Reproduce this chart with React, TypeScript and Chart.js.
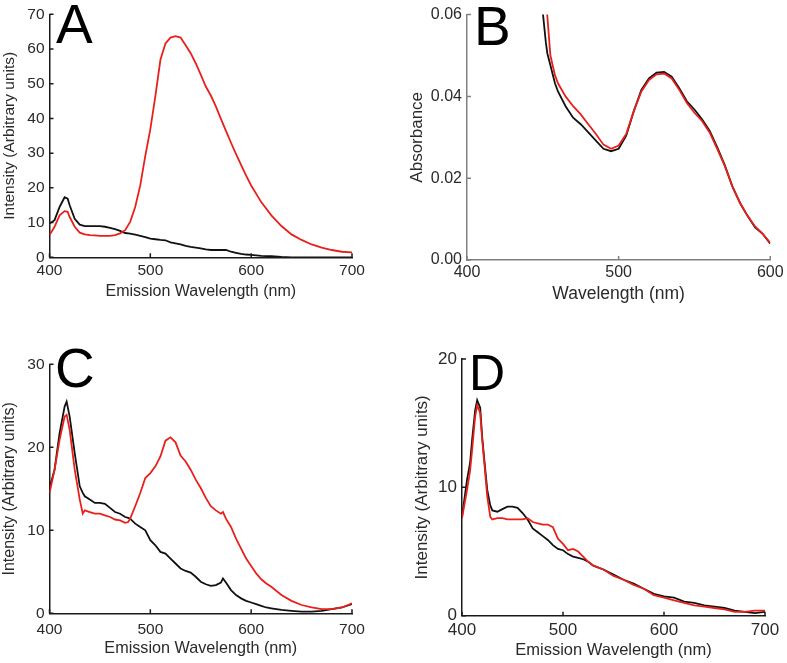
import React, { useEffect, useRef } from "react";
import { Chart, registerables } from "chart.js";

Chart.register(...registerables);

// ---------- DATA ----------
// Panel A: emission spectra
const wavelengthA = [400, 405, 410, 415, 418, 420, 425, 430, 435, 440, 445, 450, 455, 460, 465, 470, 475, 480, 485, 490, 495, 500, 505, 510, 515, 520, 525, 530, 535, 540, 545, 550, 555, 560, 565, 570, 575, 580, 585, 590, 595, 600, 610, 620, 630, 640, 650, 660, 670, 680, 690, 700];
const blackA = [9.7, 10.7, 14.5, 17.3, 16.9, 15.0, 11.1, 9.4, 9.0, 9.0, 9.0, 9.0, 8.8, 8.5, 8.1, 7.6, 7.0, 6.8, 6.5, 6.2, 5.8, 5.4, 5.2, 5.0, 4.9, 4.3, 4.0, 3.7, 3.3, 3.0, 2.8, 2.6, 2.3, 2.1, 2.1, 2.1, 2.1, 1.6, 1.3, 1.0, 0.8, 0.7, 0.4, 0.3, 0.1, 0.0, 0.0, 0.0, 0.0, 0.0, 0.0, 0.0];
const redA = [6.4, 8.8, 12.1, 13.3, 13.1, 11.6, 8.8, 7.1, 6.6, 6.4, 6.3, 6.2, 6.2, 6.2, 6.4, 6.9, 7.8, 10.2, 14.5, 20.7, 29.2, 36.9, 46.4, 56.9, 61.6, 63.3, 63.7, 63.3, 61.1, 58.8, 55.9, 52.6, 49.2, 46.6, 43.5, 39.9, 36.4, 33.0, 29.7, 26.6, 23.5, 20.7, 15.9, 12.1, 9.0, 6.6, 5.0, 3.7, 2.8, 2.1, 1.6, 1.4];

// Panel B: absorbance spectra
const wavelengthB = [450, 452, 453, 455, 458, 460, 465, 470, 475, 480, 485, 490, 495, 500, 505, 510, 515, 520, 525, 530, 535, 540, 545, 550, 555, 560, 565, 570, 575, 580, 585, 590, 595, 600];
const blackB = [0.0605, 0.0532, 0.0505, 0.0476, 0.0432, 0.0412, 0.0376, 0.0348, 0.0332, 0.0312, 0.0292, 0.0272, 0.0266, 0.0272, 0.0304, 0.0364, 0.0416, 0.0444, 0.0458, 0.046, 0.0448, 0.042, 0.0388, 0.0368, 0.0344, 0.0316, 0.0276, 0.0232, 0.018, 0.014, 0.0108, 0.008, 0.0064, 0.004];
const redB = [null, 0.064, 0.0595, 0.05, 0.0452, 0.0432, 0.04, 0.0376, 0.0356, 0.0332, 0.0308, 0.0282, 0.0272, 0.028, 0.0308, 0.0364, 0.0412, 0.044, 0.0454, 0.0456, 0.0444, 0.0416, 0.0384, 0.036, 0.034, 0.0312, 0.0272, 0.023, 0.018, 0.014, 0.0108, 0.0082, 0.0064, 0.0042];

// Panel C: emission spectra
const wavelengthC = [400, 405, 410, 415, 417, 420, 425, 430, 433, 435, 440, 445, 450, 455, 460, 465, 470, 475, 478, 480, 485, 490, 495, 500, 505, 510, 515, 520, 525, 530, 535, 540, 545, 550, 555, 560, 565, 570, 572, 575, 580, 585, 590, 595, 600, 605, 610, 615, 620, 630, 640, 650, 660, 670, 680, 690, 700];
const blackC = [15.1, 17.3, 21.7, 24.9, 25.5, 23.7, 19.3, 15.3, 14.5, 14.1, 13.7, 13.3, 13.3, 13.2, 12.7, 12.2, 12.0, 11.6, 11.5, 11.4, 10.8, 10.4, 10.0, 8.8, 8.2, 7.4, 7.2, 6.6, 6.0, 5.4, 5.1, 4.9, 4.4, 3.8, 3.5, 3.3, 3.4, 3.7, 4.2, 3.7, 2.8, 2.2, 1.8, 1.5, 1.3, 1.1, 0.9, 0.7, 0.6, 0.4, 0.3, 0.2, 0.2, 0.3, 0.5, 0.7, 1.1];
const redC = [14.5, 17.3, 20.9, 23.7, 23.9, 22.1, 17.3, 13.7, 12.0, 12.4, 12.2, 12.0, 12.0, 11.8, 11.6, 11.3, 11.2, 10.9, 11.0, 11.4, 12.9, 14.5, 16.3, 16.9, 17.7, 18.9, 20.8, 21.2, 20.6, 19.0, 18.3, 17.3, 16.1, 15.1, 13.9, 12.9, 12.4, 12.0, 12.2, 11.4, 10.4, 9.0, 7.8, 6.6, 5.7, 4.8, 4.1, 3.6, 3.2, 2.2, 1.5, 1.0, 0.7, 0.5, 0.5, 0.7, 1.2];

// Panel D: emission spectra
const wavelengthD = [400, 405, 408, 410, 413, 415, 418, 420, 423, 425, 428, 430, 435, 440, 445, 450, 455, 460, 465, 470, 475, 480, 485, 490, 495, 500, 505, 510, 515, 520, 525, 530, 540, 550, 560, 570, 580, 590, 600, 610, 620, 630, 640, 650, 660, 670, 680, 690, 700];
const blackD = [7.7, 10.6, 11.9, 13.7, 16.0, 16.8, 16.2, 13.9, 11.4, 9.8, 8.6, 8.2, 8.1, 8.3, 8.5, 8.5, 8.4, 8.0, 7.5, 6.8, 6.5, 6.2, 5.9, 5.5, 5.2, 5.1, 4.8, 4.6, 4.5, 4.4, 4.2, 3.9, 3.6, 3.2, 2.8, 2.5, 2.1, 1.7, 1.5, 1.4, 1.1, 1.0, 0.8, 0.7, 0.6, 0.4, 0.3, 0.2, 0.3];
const redD = [7.6, 9.8, 11.3, 12.9, 15.5, 16.4, 15.8, 13.7, 11.1, 9.3, 7.7, 7.5, 7.6, 7.6, 7.5, 7.5, 7.5, 7.5, 7.6, 7.3, 7.2, 7.1, 7.1, 6.9, 6.0, 5.6, 5.1, 5.2, 5.0, 4.6, 4.2, 3.9, 3.6, 3.1, 2.8, 2.4, 2.1, 1.6, 1.4, 1.2, 1.0, 0.8, 0.7, 0.6, 0.5, 0.3, 0.3, 0.4, 0.4];

const panelLetters = ["A", "B", "C", "D"];
const emissionTitle = "Emission Wavelength (nm)";
const wavelengthTitle = "Wavelength (nm)";
const intensityTitle = "Intensity (Arbitrary units)";
const absorbanceTitle = "Absorbance";

// ---------- STYLE ----------
const FONT = "'Liberation Sans', Arial, Helvetica, sans-serif";
const RED = "#e8201b";
const BLACK = "#111111";
const TEXT = "#2a2a2a";

type Panel = {
  left: number; top: number; width: number; height: number;
  xs: number[]; black: (number | null)[]; red: (number | null)[];
  xMin: number; xMax: number; yMax: number; yStep: number; yDec: number;
  xTitle: string; yTitle: string; letter: string;
  padTop: number; padRight: number; yAxisW: number; xAxisH: number;
  tickFont: number; xTitleFont: number; yTitleFont: number;
  xTickPad: number; yTickPad: number; xTitlePad: number; yTitlePad: number;
  axisColor: string; letterX: number; letterY: number; letterSize: number;
};

const panels: Panel[] = [
  {
    left: 0, top: 0, width: 393, height: 305,
    xs: wavelengthA, black: blackA, red: redA,
    xMin: 400, xMax: 700, yMax: 70, yStep: 10, yDec: 0,
    xTitle: emissionTitle, yTitle: intensityTitle, letter: panelLetters[0],
    padTop: 12.3, padRight: 41, yAxisW: 49.5, xAxisH: 47.7,
    tickFont: 15.5, xTitleFont: 16, yTitleFont: 15.5,
    xTickPad: 4, yTickPad: 5, xTitlePad: 3.4, yTitlePad: 0,
    axisColor: "#1a1a1a", letterX: 56, letterY: 43, letterSize: 55,
  },
  {
    left: 400, top: 0, width: 387, height: 310,
    xs: wavelengthB, black: blackB, red: redB,
    xMin: 400, xMax: 600, yMax: 0.06, yStep: 0.02, yDec: 2,
    xTitle: wavelengthTitle, yTitle: absorbanceTitle, letter: panelLetters[1],
    padTop: 12.3, padRight: 16, yAxisW: 67, xAxisH: 50,
    tickFont: 16, xTitleFont: 17.5, yTitleFont: 17,
    xTickPad: 3.4, yTickPad: 5, xTitlePad: 5.8, yTitlePad: 7.3,
    axisColor: "#808080", letterX: 74, letterY: 45, letterSize: 55,
  },
  {
    left: 0, top: 320, width: 393, height: 343,
    xs: wavelengthC, black: blackC, red: redC,
    xMin: 400, xMax: 700, yMax: 30, yStep: 10, yDec: 0,
    xTitle: emissionTitle, yTitle: intensityTitle, letter: panelLetters[2],
    padTop: 44.3, padRight: 41, yAxisW: 49.5, xAxisH: 49.7,
    tickFont: 15.5, xTitleFont: 16.2, yTitleFont: 16,
    xTickPad: 7.5, yTickPad: 5, xTitlePad: 4.4, yTitlePad: 0,
    axisColor: "#1a1a1a", letterX: 55, letterY: 67, letterSize: 55,
  },
  {
    left: 400, top: 320, width: 387, height: 343,
    xs: wavelengthD, black: blackD, red: redD,
    xMin: 400, xMax: 700, yMax: 20, yStep: 10, yDec: 0,
    xTitle: emissionTitle, yTitle: intensityTitle, letter: panelLetters[3],
    padTop: 39, padRight: 22, yAxisW: 62, xAxisH: 47.3,
    tickFont: 17, xTitleFont: 16.5, yTitleFont: 17,
    xTickPad: 4, yTickPad: 5, xTitlePad: 2.6, yTitlePad: 12.3,
    axisColor: "#1a1a1a", letterX: 69, letterY: 70, letterSize: 50,
  },
];

function toPoints(xs: number[], ys: (number | null)[]) {
  const out: { x: number; y: number }[] = [];
  xs.forEach((x, i) => {
    const y = ys[i];
    if (y !== null && y !== undefined) out.push({ x, y });
  });
  return out;
}

function decorPlugin(p: Panel) {
  return {
    id: "decor" + p.letter,
    afterDraw(chart: any) {
      const ctx = chart.ctx;
      const xs = chart.scales.x;
      const ys = chart.scales.y;
      const area = chart.chartArea;
      ctx.save();
      ctx.strokeStyle = p.axisColor;
      ctx.lineWidth = 1.5;
      ctx.beginPath();
      ys.ticks.forEach((t: any) => {
        const py = ys.getPixelForValue(t.value);
        ctx.moveTo(area.left, py);
        ctx.lineTo(area.left + 4, py);
      });
      xs.ticks.forEach((t: any) => {
        const px = xs.getPixelForValue(t.value);
        ctx.moveTo(px, area.bottom);
        ctx.lineTo(px, area.bottom - 4);
      });
      ctx.stroke();
      ctx.fillStyle = "#000";
      ctx.font = `${p.letterSize}px ${FONT}`;
      ctx.textBaseline = "alphabetic";
      ctx.textAlign = "left";
      ctx.fillText(p.letter, p.letterX, p.letterY);
      ctx.restore();
    },
  };
}

function PanelChart({ p }: { p: Panel }) {
  const ref = useRef<HTMLCanvasElement | null>(null);
  useEffect(() => {
    if (!ref.current) return;
    const chart = new Chart(ref.current, {
      type: "line",
      data: {
        datasets: [
          {
            data: toPoints(p.xs, p.red),
            borderColor: RED,
            borderWidth: 1.8,
            pointRadius: 0,
            tension: 0,
            fill: false,
          },
          {
            data: toPoints(p.xs, p.black),
            borderColor: BLACK,
            borderWidth: 1.8,
            pointRadius: 0,
            tension: 0,
            fill: false,
          },
        ],
      },
      options: {
        animation: false,
        responsive: false,
        devicePixelRatio: 1,
        layout: { padding: { left: 0, top: p.padTop, right: p.padRight, bottom: 0 } },
        plugins: { legend: { display: false }, tooltip: { enabled: false } },
        scales: {
          x: {
            type: "linear",
            min: p.xMin,
            max: p.xMax,
            grid: { display: false, drawTicks: false },
            border: { display: true, color: p.axisColor, width: 1.5 },
            ticks: {
              stepSize: 100,
              maxRotation: 0,
              padding: p.xTickPad,
              color: TEXT,
              font: { family: FONT, size: p.tickFont },
              callback: (v: any) => String(v),
            },
            title: {
              display: true,
              text: p.xTitle,
              color: TEXT,
              font: { family: FONT, size: p.xTitleFont },
              padding: { top: 0, bottom: p.xTitlePad },
            },
            afterFit: (s: any) => { s.height = p.xAxisH; },
          },
          y: {
            type: "linear",
            min: 0,
            max: p.yMax,
            grid: { display: false, drawTicks: false },
            border: { display: true, color: p.axisColor, width: 1.5 },
            ticks: {
              stepSize: p.yStep,
              padding: p.yTickPad,
              color: TEXT,
              font: { family: FONT, size: p.tickFont },
              callback: (v: any) => Number(v).toFixed(p.yDec),
            },
            title: {
              display: true,
              text: p.yTitle,
              color: TEXT,
              font: { family: FONT, size: p.yTitleFont },
              padding: { top: p.yTitlePad, bottom: 0 },
            },
            afterFit: (s: any) => { s.width = p.yAxisW; },
          },
        },
      },
      plugins: [decorPlugin(p)],
    } as any);
    return () => chart.destroy();
  }, [p]);
  return (
    <canvas
      ref={ref}
      width={p.width}
      height={p.height}
      style={{ position: "absolute", left: p.left, top: p.top, width: p.width, height: p.height }}
    />
  );
}

export default function App() {
  return (
    <div style={{ position: "absolute", left: 0, top: 0, width: 787, height: 663, background: "#fff", overflow: "hidden" }}>
      {panels.map((p) => (
        <PanelChart key={p.letter} p={p} />
      ))}
    </div>
  );
}
